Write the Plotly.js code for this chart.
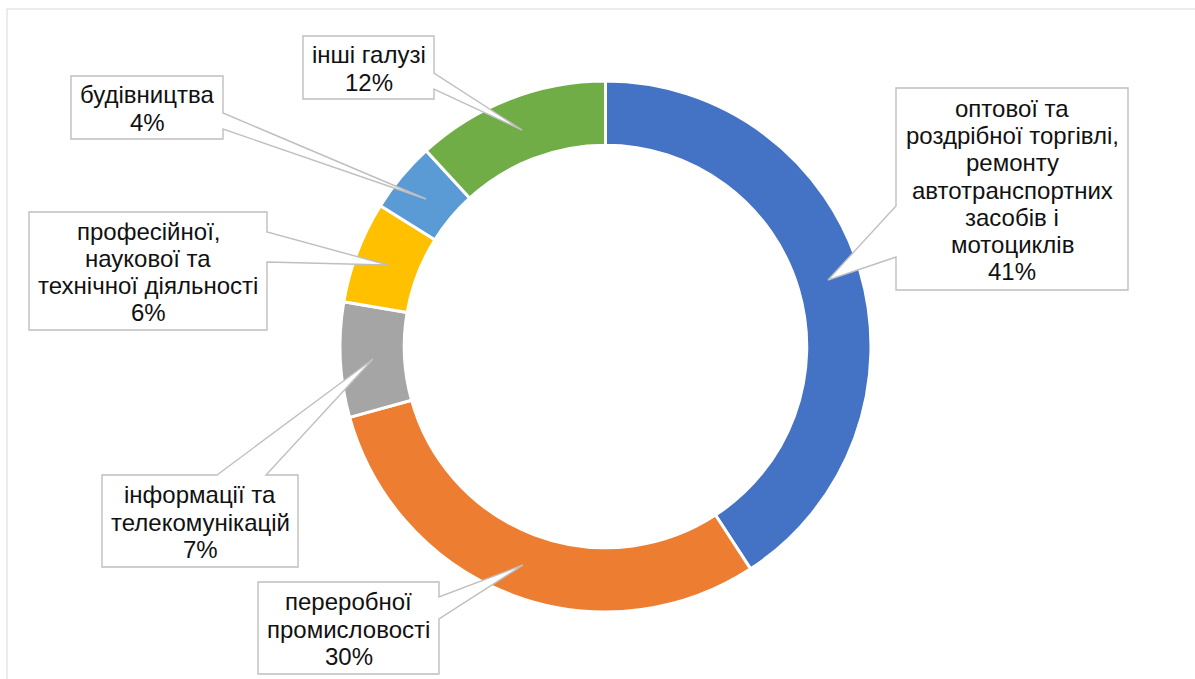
<!DOCTYPE html>
<html>
<head>
<meta charset="utf-8">
<script src="https://cdn.plot.ly/plotly-3.0.1.min.js"></script>
<style>
  html, body { margin: 0; padding: 0; background: #fff; }
  #chart { width: 1195px; height: 679px; }
</style>
</head>
<body>
<div id="chart"></div>
<script>
// ---- data ----
const categories = [
  "оптової та<br>роздрібної торгівлі,<br>ремонту<br>автотранспортних<br>засобів і<br>мотоциклів",
  "переробної<br>промисловості",
  "інформації та<br>телекомунікацій",
  "професійної,<br>наукової та<br>технічної діяльності",
  "будівництва",
  "інші галузі"
];
const shares = [40.8, 29.9, 7.0, 6.2, 4.3, 11.8];
const sliceColors = ["#4472C4", "#ED7D31", "#A5A5A5", "#FFC000", "#5B9BD5", "#70AD47"];

// ---- layout geometry (pixels) ----
const W = 1195, H = 679;
const center = { x: 605.5, y: 346.5 }, radius = 265.5;
// callout boxes: [x0, x1, y0, y1], pointer side, base points, tip
const callouts = [
  { box: [896, 1128, 88, 290], side: "left",  b1: 206, b2: 257, tip: [828, 280] },
  { box: [258, 439, 582, 674], side: "right", b1: 597, b2: 619, tip: [523, 565] },
  { box: [102, 298, 475, 567], side: "top",   b1: 217, b2: 266, tip: [373, 359] },
  { box: [29, 267, 212, 330],  side: "right", b1: 232, b2: 262, tip: [388, 265] },
  { box: [71, 223, 76, 139],   side: "right", b1: 113, b2: 129, tip: [426, 199] },
  { box: [303, 434, 36, 99],   side: "right", b1: 73,  b2: 89,  tip: [522, 130] }
];
const LINE_H = 27.3;
const FONT_SIZE = 24;

const px = x => x / W;
const py = y => 1 - y / H;
const P = (x, y) => px(x).toFixed(5) + "," + py(y).toFixed(5);

function calloutPath(c) {
  const [x0, x1, y0, y1] = c.box;
  const t = P(c.tip[0], c.tip[1]);
  let d;
  if (c.side === "right") {
    d = `M${P(x0,y0)} L${P(x1,y0)} L${P(x1,c.b1)} L${t} L${P(x1,c.b2)} L${P(x1,y1)} L${P(x0,y1)} Z`;
  } else if (c.side === "left") {
    d = `M${P(x0,y0)} L${P(x1,y0)} L${P(x1,y1)} L${P(x0,y1)} L${P(x0,c.b2)} L${t} L${P(x0,c.b1)} Z`;
  } else { // top
    d = `M${P(x0,y0)} L${P(c.b1,y0)} L${t} L${P(c.b2,y0)} L${P(x1,y0)} L${P(x1,y1)} L${P(x0,y1)} Z`;
  }
  return d;
}

const total = shares.reduce((a, b) => a + b, 0);
const shapes = [
  { type: "line", xref: "paper", yref: "paper", x0: px(7), x1: 1, y0: py(9), y1: py(9),
    line: { color: "#D9D9D9", width: 1 }, layer: "below" },
  { type: "line", xref: "paper", yref: "paper", x0: px(7), x1: px(7), y0: py(9), y1: 0,
    line: { color: "#D9D9D9", width: 1 }, layer: "below" }
];
const annotations = [];
categories.forEach((cat, i) => {
  const c = callouts[i];
  shapes.push({
    type: "path", xref: "paper", yref: "paper", path: calloutPath(c),
    fillcolor: "#FFFFFF", line: { color: "#BFBFBF", width: 1.4 }, layer: "above"
  });
  const lines = cat.split("<br>").concat([Math.round(shares[i] / total * 100) + "%"]);
  const cx = (c.box[0] + c.box[1]) / 2;
  const cy = (c.box[2] + c.box[3]) / 2 + 1;
  lines.forEach((ln, j) => {
    const y = cy + (j - (lines.length - 1) / 2) * LINE_H;
    annotations.push({
      xref: "paper", yref: "paper", x: px(cx), y: py(y),
      xanchor: "center", yanchor: "middle", showarrow: false,
      text: ln, font: { family: "Liberation Sans, Arial, sans-serif", size: FONT_SIZE, color: "#111111" }
    });
  });
});

const trace = {
  type: "pie",
  labels: categories,
  values: shares,
  sort: false,
  direction: "clockwise",
  rotation: 0,
  hole: 0.758,
  textinfo: "none",
  hoverinfo: "skip",
  marker: { colors: sliceColors, line: { color: "#FFFFFF", width: 3 } },
  domain: {
    x: [px(center.x - radius), px(center.x + radius)],
    y: [py(center.y + radius), py(center.y - radius)]
  },
  showlegend: false
};

const layout = {
  width: W, height: H,
  margin: { l: 0, r: 0, t: 0, b: 0 },
  paper_bgcolor: "#FFFFFF",
  showlegend: false,
  shapes: shapes,
  annotations: annotations
};

Plotly.newPlot("chart", [trace], layout, { displayModeBar: false, staticPlot: true });
</script>
</body>
</html>
